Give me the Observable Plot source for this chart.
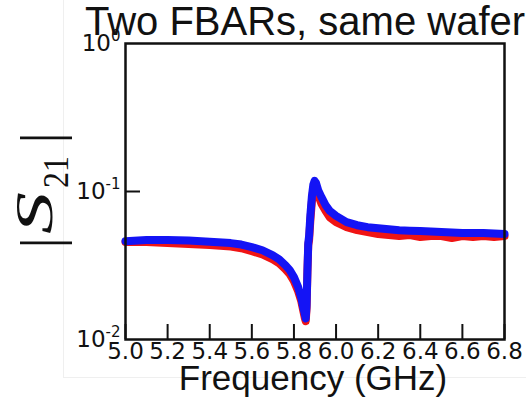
<!DOCTYPE html>
<html>
<head>
<meta charset="utf-8">
<script src="https://cdn.jsdelivr.net/npm/d3@7"></script>
<script src="https://cdn.jsdelivr.net/npm/@observablehq/plot@0.6"></script>
<style>
  html, body { margin: 0; padding: 0; background: #fff; }
  #wrap { position: relative; width: 526px; height: 402px; overflow: hidden; }
  #figborder { position: absolute; left: 63px; top: 0; width: 470px; height: 378px;
    border-left: 1px solid #efefef; border-bottom: 1px solid #efefef; box-sizing: border-box; }
  #chart { position: absolute; left: 0; top: 0; }
</style>
</head>
<body>
<div id="wrap"><div id="figborder"></div><div id="chart"></div></div>
<script>
// ---- data ----
const title = "Two FBARs, same wafer";
const xLabel = "Frequency (GHz)";
const xTicks = [5.0, 5.2, 5.4, 5.6, 5.8, 6.0, 6.2, 6.4, 6.6, 6.8];
const yTicks = [0.01, 0.1, 1];
const freq = [5.00, 5.10, 5.20, 5.30, 5.40, 5.50, 5.55, 5.60, 5.65, 5.70, 5.73, 5.76, 5.78, 5.80, 5.82,
  5.835, 5.845, 5.852, 5.856, 5.860, 5.864, 5.868, 5.872, 5.878, 5.885, 5.892, 5.898, 5.905, 5.915,
  5.93, 5.95, 5.97, 6.00, 6.05, 6.10, 6.15, 6.20, 6.25, 6.30, 6.35, 6.40, 6.45, 6.50, 6.55, 6.60,
  6.65, 6.70, 6.75, 6.80];
const s21Red = [0.0455, 0.0455, 0.0448, 0.0441, 0.0435, 0.0425, 0.0414, 0.0395, 0.0376, 0.0348, 0.0327,
  0.0298, 0.0276, 0.0248, 0.0212, 0.0181, 0.0155, 0.0139, 0.0133, 0.0163, 0.0284, 0.0435, 0.047,
  0.064, 0.085, 0.104, 0.111, 0.106, 0.095, 0.083, 0.074, 0.067, 0.062, 0.0574, 0.0548, 0.0532,
  0.0516, 0.0508, 0.0500, 0.0508, 0.0493, 0.0500, 0.0500, 0.0485, 0.0500, 0.0493, 0.0500, 0.0493, 0.0500];
const s21Blue = [0.0462, 0.0470, 0.0470, 0.0466, 0.0458, 0.0448, 0.0438, 0.0421, 0.0401, 0.0370, 0.0348,
  0.0317, 0.0294, 0.0264, 0.0226, 0.0190, 0.0163, 0.0147, 0.0139, 0.0170, 0.029, 0.0448, 0.050,
  0.069, 0.092, 0.111, 0.118, 0.114, 0.102, 0.092, 0.081, 0.074, 0.0684, 0.0621, 0.0592, 0.0574,
  0.0565, 0.0556, 0.0548, 0.0544, 0.0540, 0.0536, 0.0532, 0.0528, 0.0524, 0.0524, 0.0524, 0.0520, 0.0516];

const red = freq.map((f, i) => ({f, s: s21Red[i]}));
const blue = freq.map((f, i) => ({f, s: s21Blue[i]}));

const sans = "Liberation Sans, Arial, Helvetica, sans-serif";
const dv = "DejaVu Sans, sans-serif";
const serif = "Liberation Serif, Times New Roman, serif";

const chart = Plot.plot({
  width: 526,
  height: 402,
  marginLeft: 125,
  marginRight: 22,
  marginTop: 43,
  marginBottom: 63,
  style: {background: "transparent", overflow: "visible"},
  x: {domain: [5.0, 6.8]},
  y: {type: "log", domain: [0.01, 1]},
  marks: [
    Plot.line(red, {x: "f", y: "s", stroke: "#f01414", strokeWidth: 8, strokeLinecap: "round", strokeLinejoin: "round"}),
    Plot.line(blue, {x: "f", y: "s", stroke: "#1414f5", strokeWidth: 8, strokeLinecap: "round", strokeLinejoin: "round"}),
    // tick labels
    Plot.axisX({ticks: xTicks, tickSize: 0, tickPadding: 3, tickFormat: d3.format(".1f"), label: null,
      fontSize: 23, fontFamily: dv, fill: "#111"}),
    Plot.axisY({ticks: yTicks, tickSize: 0, tickPadding: 5, label: null,
      tickFormat: d => "10^" + Math.round(Math.log10(d)), fontSize: 23, fontFamily: dv, fill: "#111"}),
    // inward ticks
    Plot.axisX({ticks: xTicks, tickSize: -15, tickFormat: () => "", label: null, stroke: "#111", strokeWidth: 2}),
    Plot.axisY({ticks: [0.1], tickSize: -15, tickFormat: () => "", label: null, stroke: "#111", strokeWidth: 2}),
    Plot.frame({stroke: "#111", strokeWidth: 2.5}),
    Plot.text([title], {frameAnchor: "top", lineAnchor: "bottom", dy: -9, dx: -10, fontSize: 40,
      fontFamily: sans, fill: "#111"}),
    Plot.text([xLabel], {frameAnchor: "bottom", lineAnchor: "bottom", dy: 50, dx: -2, fontSize: 35,
      fontFamily: sans, fill: "#111"})
  ]
});

// superscript exponents on the y tick labels
d3.select(chart).selectAll('g[aria-label="y-axis tick label"] text').each(function() {
  const t = this.textContent;
  if (!t.startsWith("10^")) return;
  const exp = t.slice(3);
  const sel = d3.select(this);
  sel.text(null);
  sel.append("tspan").text("10");
  sel.append("tspan").attr("dy", -10).attr("font-size", 15).text(exp);
});

// y axis label |S21| (rotated), built from separate pieces
const svg = d3.select(chart);
const g = svg.append("g").attr("aria-label", "y-axis label").attr("fill", "#111").attr("font-family", serif);
function piece(txt, bx, by, opts) {
  const t = g.append("text")
    .attr("transform", `translate(${bx},${by}) rotate(-90)`)
    .attr("font-size", opts.size)
    .attr("text-anchor", opts.anchor || "start")
    .text(txt);
  if (opts.italic) t.attr("font-style", "italic");
  if (opts.len) t.attr("textLength", opts.len).attr("lengthAdjust", "spacingAndGlyphs");
  return t;
}
piece("|", 60, 243, {size: 56, anchor: "middle"});
piece("S", 52, 234, {size: 53, italic: true, len: 42});
piece("21", 68, 188, {size: 36, len: 32});
piece("|", 60, 138, {size: 56, anchor: "middle"});

document.getElementById("chart").appendChild(chart);
</script>
</body>
</html>
